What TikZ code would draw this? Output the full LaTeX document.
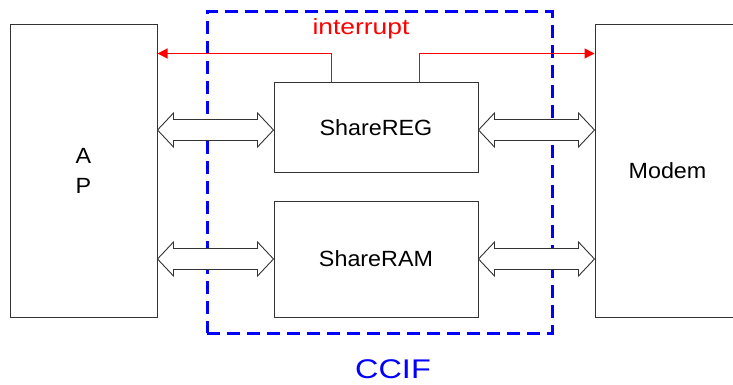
\documentclass[tikz,border=0pt]{standalone}
\usepackage{fontspec}
\setmainfont{Liberation Sans}
\newfontfamily\fA[FakeStretch=1.06]{Liberation Sans}
\newfontfamily\fB[FakeStretch=1.2]{Liberation Sans}
\usetikzlibrary{arrows.meta,calc}
\definecolor{irqred}{RGB}{255,0,0}
\tikzset{
  blk/.style={draw=black!80, line width=1pt, inner sep=0pt, fill=white,
    font=\fA\fontsize{22}{30}\selectfont, align=center},
  dblarr/.style={draw=black!80, line width=0.9pt, fill=white, line join=miter},
  intr/.style={draw=irqred, line width=1.2pt, -{Triangle[length=10pt,width=10pt]}},
  irqfill/.style={fill=irqred, draw=none},
  ccifbox/.style={draw=blue, line width=3pt, dash pattern=on 13pt off 7pt, inner sep=0pt},
}
\newcommand\dbl[2]{%
  \draw[dblarr] (#1) -- ++(16,-17) -- ++(0,6.5) -- ($(#2)+(-16,-10.5)$) -- ++(0,-6.5)
    -- (#2) -- ++(-16,17) -- ++(0,-6.5) -- ($(#1)+(16,10.5)$) -- ++(0,6.5) -- cycle;}
\begin{document}
\begin{tikzpicture}[x=1pt,y=-1pt]
\useasboundingbox (0,0) rectangle (733,385);
\node[ccifbox, minimum width=345pt, minimum height=321pt] (ccif) at (379.5,172.5) {};
\node[blk, minimum width=147pt, minimum height=292pt] (AP) at (83.5,171) {A\\P};
\node[blk, minimum width=145pt, minimum height=292pt] (Modem) at (667.5,171) {Modem};
\node[blk, minimum width=204pt, minimum height=89pt] (REG) at (376,127.5) {ShareREG};
\node[blk, minimum width=204pt, minimum height=116pt] (RAM) at (376,259) {ShareRAM};
% interrupt arrows
\coordinate (i1) at ($(REG.north west)+(58,0)$);
\coordinate (i2) at ($(REG.north east)+(-59,0)$);
\coordinate (ap) at ($(AP.north east)+(0,29)$);
\coordinate (mo) at ($(Modem.north west)+(0,29)$);
\draw[intr] (i1) |- (ap);
\draw[intr] (i2) |- (mo);
\fill[irqfill] ($(i1)+(-0.8,0)$) rectangle ($(i1 |- ap)+(0.8,-0.8)$);
\fill[irqfill] ($(ap)+(8,-0.8)$) rectangle ($(i1 |- ap)+(0.8,0.8)$);
\fill[irqfill] ($(i2)+(-0.8,0)$) rectangle ($(i2 |- mo)+(0.8,-0.8)$);
\fill[irqfill] ($(mo)+(-8,-0.8)$) rectangle ($(i2 |- mo)+(-0.8,0.8)$);
\node[text=irqred, font=\fB\fontsize{22}{22}\selectfont, anchor=base, inner sep=0pt] (irq) at (361,35) {interrupt};
\node[text=blue, font=\fB\fontsize{27}{27}\selectfont, anchor=base, inner sep=0pt] (lbl) at (393,378) {CCIF};
% bus arrows
\coordinate (a1) at ($(AP.east |- REG.west)+(0,2.5)$);
\coordinate (r1) at ($(REG.west)+(0,2.5)$);
\coordinate (r2) at ($(REG.east)+(0,2.5)$);
\coordinate (m1) at ($(Modem.west |- REG.east)+(0,2.5)$);
\dbl{a1}{r1}
\dbl{r2}{m1}
\coordinate (a2) at (AP.east |- RAM.west);
\coordinate (m2) at (Modem.west |- RAM.east);
\dbl{a2}{RAM.west}
\dbl{RAM.east}{m2}
\end{tikzpicture}
\end{document}
